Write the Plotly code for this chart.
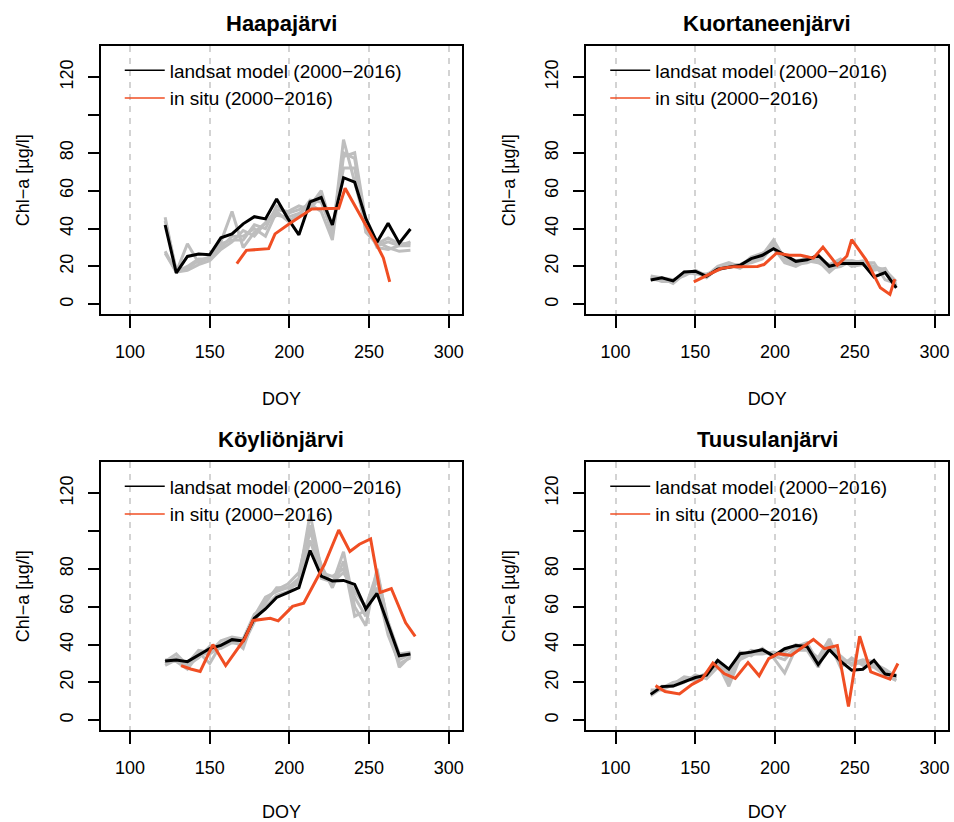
import plotly.graph_objects as go

# ---------------- data ----------------
doy_model = [122, 129, 136, 143, 150, 157, 164, 171, 178, 185, 192, 199,
             206, 213, 220, 227, 234, 241, 248, 255, 262, 269, 276]

lake_names = ["Haapajärvi", "Kuortaneenjärvi", "Köyliönjärvi", "Tuusulanjärvi"]

# Haapajärvi
haapa_model = [41.9, 16.6, 25.3, 26.6, 26.2, 35.1, 37.2, 42.5, 46.3, 45.1, 55.6, 45.4,
               36.7, 54.1, 56.4, 41.9, 66.9, 64.6, 45.4, 32.8, 42.8, 32.3, 39.8]
haapa_grey_1 = [46, 17, 20, 24, 24, 33, 49, 30, 38, 43, 50, 49, 52, 50, 58, 36, 87, 65, 42, 33, 30, 28, 28.5]
haapa_grey_2 = [28, 17, 32, 22, 25, 30, 36, 36, 40, 36, 49, 44, 47, 55, 54, 38, 80, 77, 40, 31, 33, 31, 31]
haapa_grey_3 = [27, 17, 18, 21, 23, 29, 33, 39, 36, 43, 47, 46, 48, 52, 60, 40, 72, 72, 38, 32, 35, 32, 32]
haapa_grey_4 = [44, 18, 19, 23, 25, 32, 34, 34, 42, 40, 52, 48, 50, 53, 49, 34, 78, 80, 44, 30, 29, 31, 33]
haapa_insitu_doy = [167, 173, 187, 191, 200, 214, 231, 235, 254, 259, 263]
haapa_insitu = [21.5, 28.5, 29.4, 37.2, 42.5, 50.3, 50.7, 61.3, 32.8, 24.5, 11.9]

# Kuortaneenjärvi
kuort_model = [12.8, 14.0, 12.4, 17.1, 17.5, 14.8, 18.5, 19.7, 20.6, 24.1, 25.9, 29.4,
               25.9, 22.7, 23.5, 25.9, 20.1, 21.5, 21.5, 21.5, 14.5, 16.8, 8.7]
kuort_grey_1 = [14, 14, 11, 16, 17, 15, 19, 21, 19, 23, 26, 34, 24, 21, 22, 24, 18, 23, 23, 22, 20, 18, 12]
kuort_grey_2 = [13, 13, 12, 17, 16, 16, 18, 20, 21, 22, 24, 31, 23, 22, 25, 23, 17, 22, 22, 23, 19, 17, 10]
kuort_grey_3 = [15, 14, 13, 15, 18, 15, 20, 22, 20, 25, 27, 30, 22, 20, 23, 22, 19, 20, 23, 22, 22, 13, 11]
kuort_grey_4 = [14, 12, 12, 16, 17, 14, 19, 20, 21, 24, 25, 32, 25, 23, 24, 24, 21, 24, 20, 21, 18, 19, 9]
kuort_insitu_doy = [149, 166, 174, 189, 193, 201, 209, 216, 224, 230, 239, 245, 248, 257, 266, 272, 275]
kuort_insitu = [11.9, 18.9, 19.9, 20.0, 21.0, 27.1, 25.9, 25.9, 24.4, 30.2, 20.6, 25.5, 34.2, 23.5, 8.7, 5.2, 13.3]

# Köyliönjärvi
koyl_model = [31.3, 31.8, 31.0, 34.4, 37.9, 39.6, 42.6, 41.9, 53.9, 58.8, 64.9, 67.5,
              70.1, 89.7, 76.2, 73.6, 73.9, 71.8, 58.8, 67.0, 51.0, 34.1, 35.0]
koyl_grey_1 = [30, 33, 28, 36, 30, 40, 43, 38, 55, 65, 68, 70, 75, 109, 80, 72, 89, 60, 50, 80, 50, 28, 34]
koyl_grey_2 = [31, 35, 29, 33, 39, 38, 41, 40, 52, 62, 70, 70, 72, 95, 78, 76, 80, 65, 55, 75, 48, 32, 35]
koyl_grey_3 = [29, 32, 30, 37, 36, 42, 44, 43, 56, 60, 66, 68, 74, 100, 82, 70, 84, 55, 58, 70, 45, 30, 33]
koyl_grey_4 = [32, 31, 27, 35, 35, 39, 42, 42, 53, 64, 69, 72, 78, 103, 75, 73, 78, 68, 60, 78, 52, 35, 36]
koyl_insitu_doy = [132, 138, 144, 152, 160, 172, 177, 188, 193, 202, 209, 213, 222, 231,
                   238, 244, 251, 257, 264, 273, 279]
koyl_insitu = [28.9, 27.1, 25.8, 40.0, 28.9, 43.1, 52.7, 53.9, 52.5, 60.2, 61.9, 68.0, 82.3, 100.5,
               89.2, 93.0, 95.8, 67.5, 69.6, 51.5, 44.3]

# Tuusulanjärvi
tuus_model = [13.7, 17.8, 18.1, 20.4, 22.6, 23.8, 31.7, 27.0, 35.2, 36.0, 37.3, 34.0,
              37.8, 39.5, 39.0, 29.4, 37.3, 31.2, 26.5, 27.0, 31.7, 24.4, 23.5]
tuus_grey_1 = [15, 17, 19, 22, 21, 24, 30, 18, 33, 37, 36, 35, 36, 40, 38, 33, 43, 30, 32, 30, 29, 26, 22]
tuus_grey_2 = [14, 18, 18, 20, 24, 22, 28, 22, 36, 34, 38, 33, 25, 38, 40, 31, 40, 34, 29, 31, 30, 27, 23]
tuus_grey_3 = [16, 16, 19, 23, 22, 25, 30, 25, 32, 35, 35, 36, 34, 37, 37, 28, 41, 28, 33, 29, 28, 24, 21]
tuus_grey_4 = [13, 17, 20, 21, 23, 23, 32, 20, 34, 36, 37, 34, 32, 39, 41, 30, 38, 32, 30, 32, 31, 25, 24]
tuus_insitu_doy = [125, 131, 140, 148, 154, 161, 168, 175, 183, 190, 196, 202, 210, 218, 224,
                   231, 239, 246, 253, 260, 266, 272, 277]
tuus_insitu = [18.3, 15.2, 13.9, 19.0, 21.6, 30.3, 24.7, 22.1, 30.5, 23.5, 32.6, 35.2, 34.3, 39.0, 42.7,
               37.8, 39.5, 7.3, 44.4, 25.6, 23.5, 21.7, 30.0]

x_tickvals = [100, 150, 200, 250, 300]
y_tickvals = [0, 20, 40, 60, 80, 100, 120]
y_ticktext = ["0", "20", "40", "60", "80", "", "120"]
legend_labels = ["landsat model (2000\u22122016)", "in situ (2000\u22122016)"]

# ---------------- figure ----------------
FONT = "Liberation Sans, Arial, Helvetica, sans-serif"
GREY = "#BEBEBE"
BLACK = "#000000"
ORANGE = "#F04E23"

panels = [
    (lake_names[0], [haapa_grey_1, haapa_grey_2, haapa_grey_3, haapa_grey_4], haapa_model, haapa_insitu_doy, haapa_insitu),
    (lake_names[1], [kuort_grey_1, kuort_grey_2, kuort_grey_3, kuort_grey_4], kuort_model, kuort_insitu_doy, kuort_insitu),
    (lake_names[2], [koyl_grey_1, koyl_grey_2, koyl_grey_3, koyl_grey_4], koyl_model, koyl_insitu_doy, koyl_insitu),
    (lake_names[3], [tuus_grey_1, tuus_grey_2, tuus_grey_3, tuus_grey_4], tuus_model, tuus_insitu_doy, tuus_insitu),
]

W, H = 954, 822
x_domains = [[101 / W, 463 / W], [587.5 / W, 950 / W], [101 / W, 463 / W], [587.5 / W, 950 / W]]
y_domains = [[1 - 315 / H, 1 - 46.5 / H], [1 - 315 / H, 1 - 46.5 / H],
             [1 - 732 / H, 1 - 463.5 / H], [1 - 732 / H, 1 - 463.5 / H]]

fig = go.Figure()
layout = dict(
    width=W, height=H, margin=dict(l=0, r=0, t=0, b=0),
    paper_bgcolor="white", plot_bgcolor="white",
    font=dict(family=FONT, size=18, color="black"),
    annotations=[],
)

for i, (name, greys, model, ins_doy, ins) in enumerate(panels):
    k = "" if i == 0 else str(i + 1)
    xa, ya = "x" + k, "y" + k
    leg = "legend" + k
    for g in greys:
        fig.add_trace(go.Scatter(x=doy_model, y=g, mode="lines", xaxis=xa, yaxis=ya,
                                 line=dict(color=GREY, width=3), showlegend=False,
                                 hoverinfo="skip"))
    fig.add_trace(go.Scatter(x=doy_model, y=model, mode="lines", xaxis=xa, yaxis=ya,
                             line=dict(color=BLACK, width=3), showlegend=False))
    fig.add_trace(go.Scatter(x=ins_doy, y=ins, mode="lines", xaxis=xa, yaxis=ya,
                             line=dict(color=ORANGE, width=3), showlegend=False))
    # legend entries
    fig.add_trace(go.Scatter(x=[None], y=[None], mode="lines", xaxis=xa, yaxis=ya,
                             line=dict(color=BLACK, width=1.5), name=legend_labels[0], legend=leg))
    fig.add_trace(go.Scatter(x=[None], y=[None], mode="lines", xaxis=xa, yaxis=ya,
                             line=dict(color=ORANGE, width=1.5), name=legend_labels[1], legend=leg))

    layout["xaxis" + k] = dict(
        domain=x_domains[i], range=[81.6, 308.4], anchor=ya,
        tickvals=x_tickvals, ticks="outside", ticklen=12, tickwidth=2, tickcolor="black",
        ticklabelstandoff=8,
        showline=True, mirror=True, linecolor="black", linewidth=2,
        showgrid=True, gridcolor="#D3D3D3", gridwidth=1.5, griddash="6px,6px",
        zeroline=False,
        title=dict(text="DOY", standoff=32, font=dict(size=18)),
    )
    layout["yaxis" + k] = dict(
        domain=y_domains[i], range=[-5.24, 136.24], anchor=xa,
        tickvals=y_tickvals, ticktext=y_ticktext, tickangle=-90,
        ticks="outside", ticklen=11, tickwidth=2, tickcolor="black",
        ticklabelstandoff=8,
        showline=True, mirror=True, linecolor="black", linewidth=2,
        showgrid=False, zeroline=False,
        title=dict(text="Chl\u2212a [µg/l]", standoff=22, font=dict(size=18)),
    )
    layout[leg] = dict(
        x=x_domains[i][0] + 19 / W, y=y_domains[i][1] - 5 / H,
        xanchor="left", yanchor="top", bgcolor="rgba(0,0,0,0)",
        font=dict(size=19, family=FONT), itemwidth=40, tracegroupgap=0,
    )
    layout["annotations"].append(dict(
        text="<b>" + name + "</b>", xref=xa + " domain", yref=ya + " domain",
        x=0.5, y=1, xanchor="center", yanchor="middle", yshift=23,
        showarrow=False, font=dict(size=22, family=FONT),
    ))

fig.update_layout(**layout)
fig.write_html(
    "out.html",
    config={"displayModeBar": False},
    post_script="document.body.style.margin='0';document.body.style.overflow='hidden';",
)
